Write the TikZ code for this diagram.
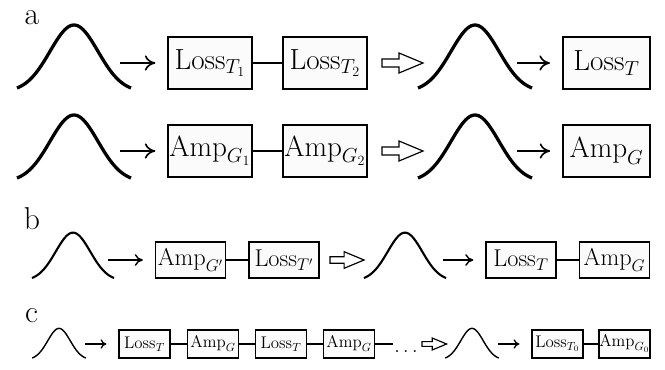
\documentclass[tikz,border=0pt]{standalone}
\usetikzlibrary{arrows.meta}

\tikzset{
  bump/.pic={\draw plot[domain=-57:57, samples=61, smooth] (\x, {-63*(exp(-((\x)/24)^2/2)-0.0596)/0.9404});},
  hollowarrow/.pic={\draw[fill=white] (0,-4) -- (17,-4) -- (17,-10) -- (41,0) -- (17,10) -- (17,4) -- (0,4) -- cycle;}
}

\begin{document}
\begin{tikzpicture}[x=0.03cm, y=-0.03cm,
  panel/.style={inner sep=0pt, font=\fontsize{27}{29}\selectfont},
  boxa/.style={draw, fill=gray!3, line width=1.1pt, inner sep=0pt, minimum width=2.52cm, minimum height=1.56cm, font=\fontsize{26}{28}\selectfont},
  boxafin/.style={boxa, line width=1.8pt, minimum width=2.61cm, font=\fontsize{25}{27}\selectfont},
  boxb/.style={boxa, line width=1pt, minimum width=2.1cm, minimum height=1.08cm, font=\fontsize{20}{22}\selectfont},
  boxc/.style={boxa, line width=1pt, minimum width=1.53cm, minimum height=0.84cm, font=\fontsize{14.5}{16}\selectfont},
  link/.style={line width=1.3pt},
  feeda/.style={line width=1.4pt, -{To[length=9pt,width=13pt]}, shorten >=0.36cm},
  feedb/.style={line width=1.2pt, -{To[length=7pt,width=10pt]}, shorten >=0.36cm},
  feedc/.style={line width=1.1pt, -{To[length=5pt,width=8pt]}, shorten >=0.36cm}]

  \useasboundingbox (0,0) rectangle (665,370);

  % a: loss and gain chains
  \node[panel] (la) at (32,18) {a};

  \pic[line width=2.8pt] at (74,88) {bump};
  \node[boxa] (lt1) at (210,63) {$\mathrm{Loss}_{T_1}$};
  \node[boxa] (lt2) at (325,63) {$\mathrm{Loss}_{T_2}$};
  \node[boxafin] (lt) at (606.5,63) {$\mathrm{Loss}_T$};
  \coordinate (sa1) at (120,63);
  \draw[feeda] (sa1) -- (lt1);
  \draw[link] (lt1) -- (lt2);
  \pic[line width=1pt] at (382,63) {hollowarrow};
  \pic[line width=2.8pt] at (475,88) {bump};
  \coordinate (sa2) at (517,63);
  \draw[feeda] (sa2) -- (lt);

  \pic[line width=2.8pt] at (74,178) {bump};
  \node[boxa] (ag1) at (210,151) {$\mathrm{Amp}_{G_1}$};
  \node[boxa] (ag2) at (325,151) {$\mathrm{Amp}_{G_2}$};
  \node[boxafin, line width=1.3pt] (ag) at (606.5,151) {$\mathrm{Amp}_G$};
  \coordinate (sa3) at (120,151);
  \draw[feeda] (sa3) -- (ag1);
  \draw[link] (ag1) -- (ag2);
  \pic[line width=1pt] at (382,151) {hollowarrow};
  \pic[line width=2.8pt] at (475,178) {bump};
  \coordinate (sa4) at (517,151);
  \draw[feeda] (sa4) -- (ag);

  % b: gain then loss
  \node[panel] (lb) at (32,218.5) {b};

  \pic[line width=1.8pt, scale=0.72] at (73,278) {bump};
  \node[boxb] (agp) at (190.5,260) {$\mathrm{Amp}_{G'}$};
  \node[boxb] (ltp) at (284,260) {$\mathrm{Loss}_{T'}$};
  \node[boxb] (ltb) at (521,260) {$\mathrm{Loss}_T$};
  \node[boxb] (agb) at (614.5,260) {$\mathrm{Amp}_G$};
  \coordinate (sb1) at (108,260);
  \draw[feedb] (sb1) -- (agp);
  \draw[link] (agp) -- (ltp);
  \pic[line width=1pt, scale=0.83] at (330,260) {hollowarrow};
  \pic[line width=1.8pt, scale=0.72] at (405,278) {bump};
  \coordinate (sb2) at (443,260);
  \draw[feedb] (sb2) -- (ltb);
  \draw[link] (ltb) -- (agb);

  % c: repeated stages
  \node[panel] (lc) at (31.5,315.5) {c};

  \pic[line width=1.2pt, scale=0.47] at (59,358) {bump};
  \node[boxc] (c1) at (144.5,344) {$\mathrm{Loss}_T$};
  \node[boxc] (c2) at (213,344) {$\mathrm{Amp}_G$};
  \node[boxc] (c3) at (281,344) {$\mathrm{Loss}_T$};
  \node[boxc] (c4) at (349,344) {$\mathrm{Amp}_G$};
  \coordinate (sc1) at (85,344);
  \draw[feedc] (sc1) -- (c1);
  \draw[link] (c1) -- (c2);
  \draw[link] (c2) -- (c3);
  \draw[link] (c3) -- (c4);
  \coordinate (cend) at (393,344);
  \draw[link] (c4) -- (cend);
  \node[font=\fontsize{16}{18}\selectfont] (dots) at (406,352) {$\dots$};
  \pic[line width=1pt, scale=0.6] at (422,344) {hollowarrow};
  \pic[line width=1.2pt, scale=0.47] at (472,358) {bump};
  \node[boxc] (c5) at (557.5,344) {$\mathrm{Loss}_{T_0}$};
  \node[boxc] (c6) at (624.5,344) {$\mathrm{Amp}_{G_0}$};
  \coordinate (sc2) at (498,344);
  \draw[feedc] (sc2) -- (c5);
  \draw[link] (c5) -- (c6);
\end{tikzpicture}
\end{document}
